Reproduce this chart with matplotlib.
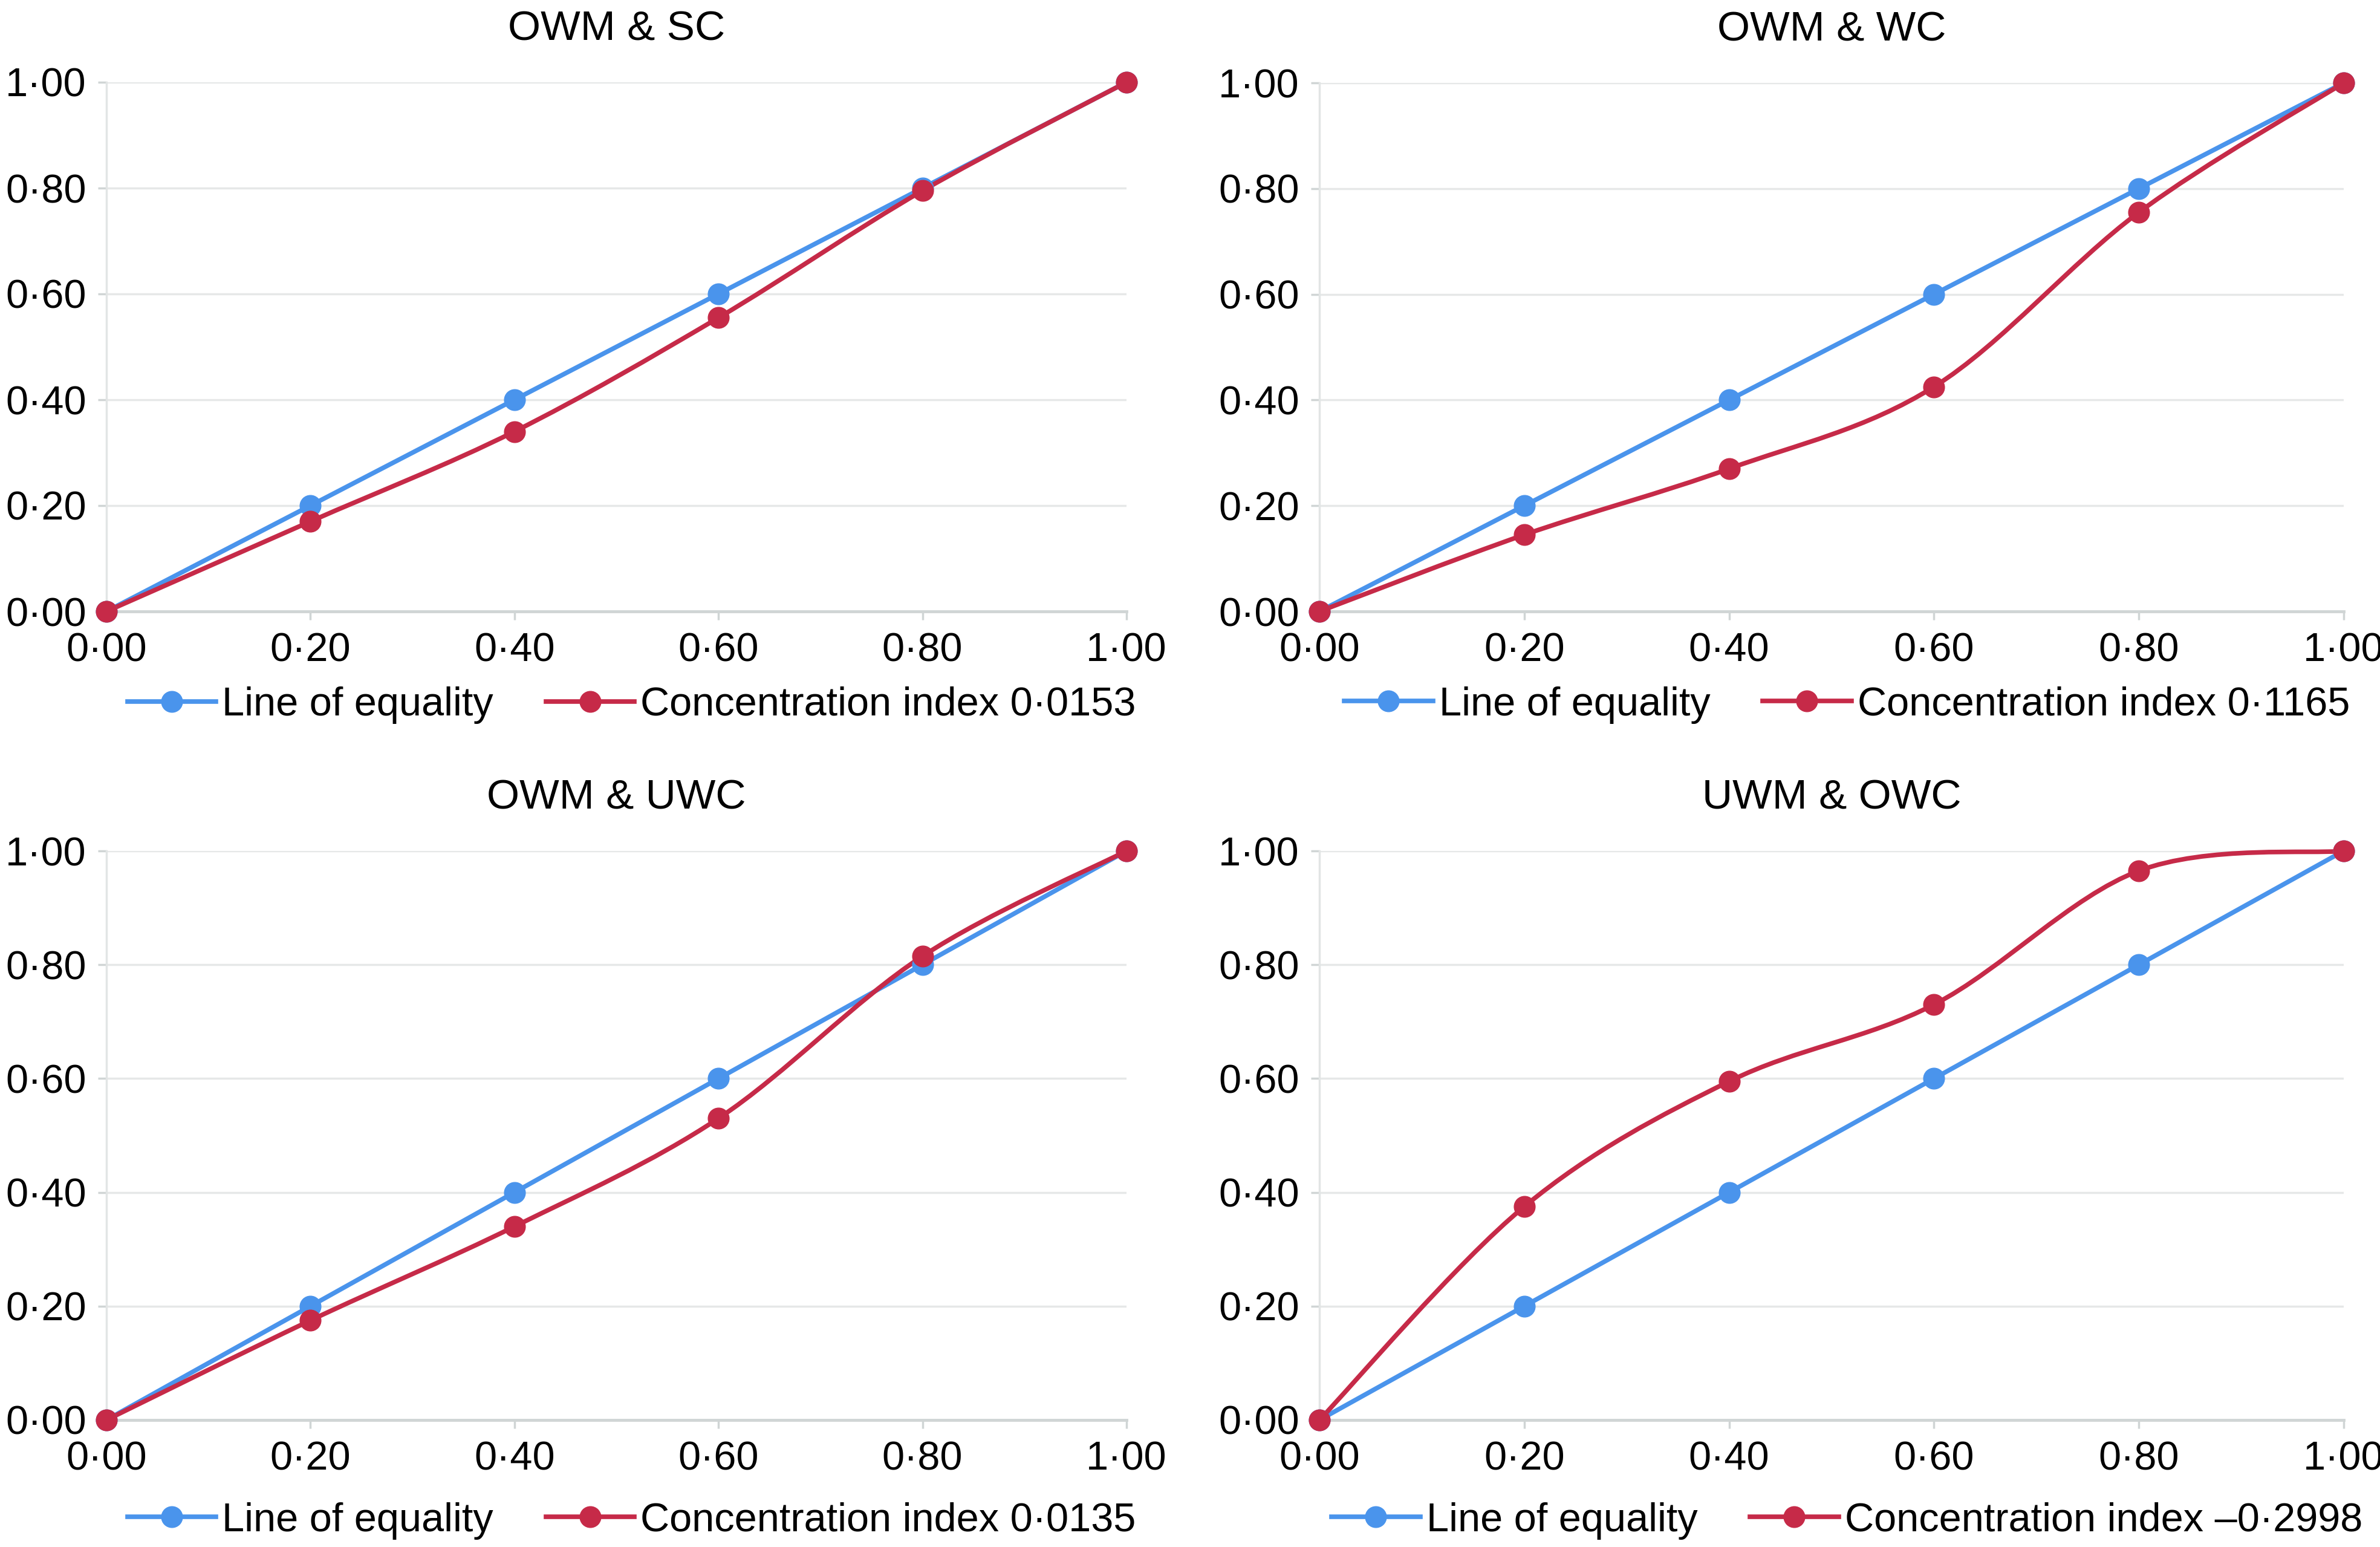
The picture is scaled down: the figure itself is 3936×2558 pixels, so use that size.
#!/usr/bin/env python3
"""Concentration curves for four wasting/care groups (2x2 panels).

Writes: out.png
"""
import matplotlib
matplotlib.use("Agg")
import matplotlib.pyplot as plt
from matplotlib.lines import Line2D
from matplotlib.patches import PathPatch
from matplotlib.path import Path

# ── data ──────────────────────────────────────────────────────────────────────
CUM_POP = [0.0, 0.2, 0.4, 0.6, 0.8, 1.0]
EQUALITY = [0.0, 0.2, 0.4, 0.6, 0.8, 1.0]

PANEL_TITLES = ["OWM & SC", "OWM & WC", "OWM & UWC", "UWM & OWC"]
CONC_INDEX = ["0·0153", "0·1165", "0·0135", "–0·2998"]

CONC_SC  = [0.0, 0.17, 0.34, 0.555, 0.795, 1.0]
CONC_WC  = [0.0, 0.145, 0.27, 0.425, 0.755, 1.0]
CONC_UWC = [0.0, 0.175, 0.34, 0.53, 0.815, 1.0]
CONC_OWC = [0.0, 0.375, 0.595, 0.73, 0.965, 1.0]

TICKS = [0.0, 0.2, 0.4, 0.6, 0.8, 1.0]
TICK_LABELS = ["0·00", "0·20", "0·40", "0·60", "0·80", "1·00"]

BLUE = "#4A94EC"
RED = "#C62A48"
GRID = "#E6E8E8"

plt.rcParams.update({
    "font.family": ["Liberation Sans", "DejaVu Sans"],
    "font.size": 48,
})

W, H = 3937, 2558
# axes boxes in pixels: (left, right, top, bottom)
BOXES = [
    (176, 1863, 136, 1011),
    (2182, 3876, 137, 1011),
    (176, 1863, 1407, 2348),
    (2182, 3876, 1407, 2348),
]


def smooth_path(xs, ys):
    """Excel-style smoothed line: Catmull-Rom segments as cubic Beziers."""
    pts = list(zip(xs, ys))
    n = len(pts)
    verts = [pts[0]]
    codes = [Path.MOVETO]
    for i in range(n - 1):
        p0 = pts[max(i - 1, 0)]
        p1 = pts[i]
        p2 = pts[i + 1]
        p3 = pts[min(i + 2, n - 1)]
        c1 = (p1[0] + (p2[0] - p0[0]) / 6, p1[1] + (p2[1] - p0[1]) / 6)
        c2 = (p2[0] - (p3[0] - p1[0]) / 6, p2[1] - (p3[1] - p1[1]) / 6)
        verts += [c1, c2, p2]
        codes += [Path.CURVE4] * 3
    return Path(verts, codes)


def draw_panel(ax, title, conc, ci_label):
    for ys, col in [(EQUALITY, BLUE), (conc, RED)]:
        ax.add_patch(PathPatch(smooth_path(CUM_POP, ys), facecolor="none",
                               edgecolor=col, lw=5.5, capstyle="round",
                               joinstyle="round", clip_on=False, zorder=3))
        ax.plot(CUM_POP, ys, "o", color=col, ms=25, clip_on=False, zorder=4)

    ax.set_xlim(0, 1)
    ax.set_ylim(0, 1)
    ax.set_xticks(TICKS)
    ax.set_xticklabels(TICK_LABELS)
    ax.set_yticks(TICKS)
    ax.set_yticklabels(TICK_LABELS)
    ax.tick_params(axis="both", colors="#D0D5D5", labelcolor="black",
                   length=10, width=2.5, labelsize=48)
    ax.tick_params(axis="x", pad=15)
    ax.tick_params(axis="y", pad=14)
    ax.grid(axis="y", color=GRID, lw=2.5)
    ax.set_axisbelow(True)
    for side in ("top", "right"):
        ax.spines[side].set_visible(False)
    ax.spines["left"].set_color("#E2E5E5")
    ax.spines["left"].set_linewidth(2.5)
    ax.spines["bottom"].set_color("#D0D5D5")
    ax.spines["bottom"].set_linewidth(3.5)
    ax.set_title(title, fontsize=50, pad=50)

    handles = [
        Line2D([], [], color=BLUE, lw=5.5, marker="o", ms=25),
        Line2D([], [], color=RED, lw=5.5, marker="o", ms=25),
    ]
    ax.legend(handles, ["Line of equality", f"Concentration index {ci_label}"],
              loc="center", bbox_to_anchor=(0.515, -0.177), ncol=2,
              frameon=False, fontsize=48, handlelength=2.2,
              handletextpad=0.15, columnspacing=1.3)


def main():
    fig = plt.figure(figsize=(W / 100, H / 100), dpi=100)
    series = [CONC_SC, CONC_WC, CONC_UWC, CONC_OWC]
    for (l, r, t, b), title, conc, ci in zip(BOXES, PANEL_TITLES, series, CONC_INDEX):
        ax = fig.add_axes([l / W, 1 - b / H, (r - l) / W, (b - t) / H])
        draw_panel(ax, title, conc, ci)
    fig.savefig("out.png", dpi=100, facecolor="white")
    plt.close(fig)


if __name__ == "__main__":
    main()
